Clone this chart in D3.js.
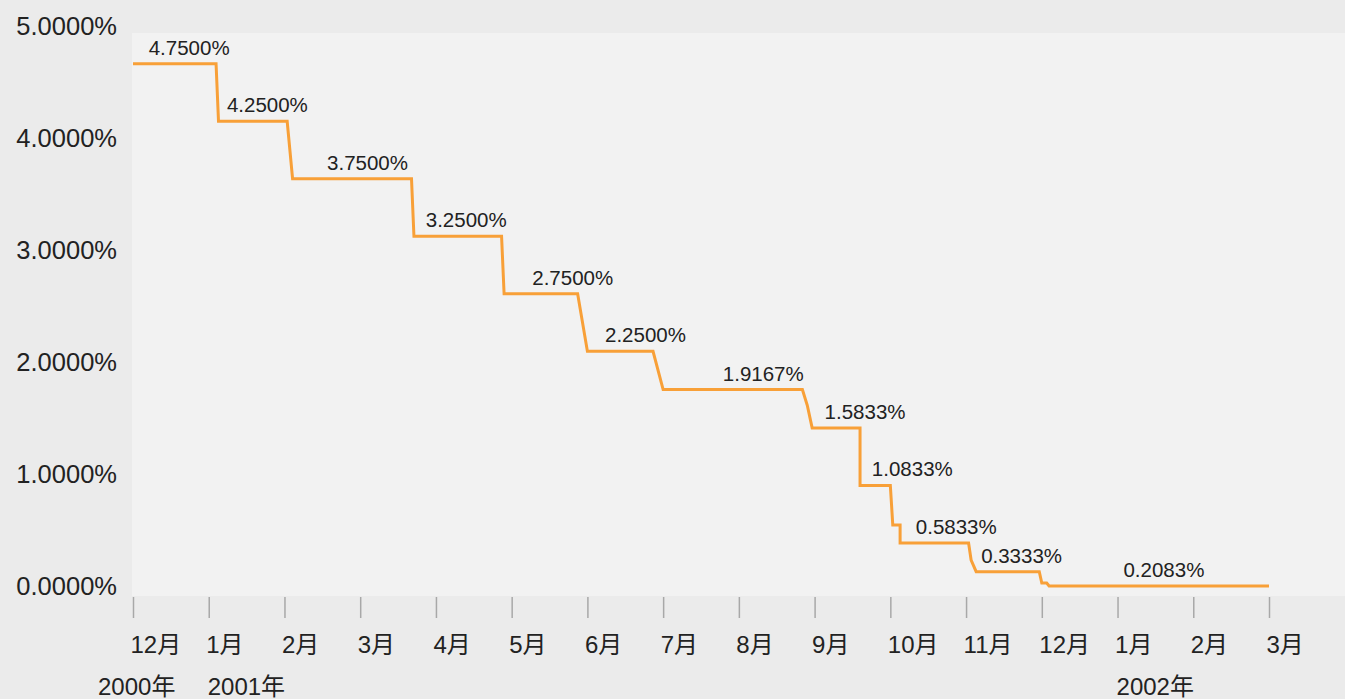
<!DOCTYPE html>
<html>
<head>
<meta charset="utf-8">
<script src="https://cdn.jsdelivr.net/npm/d3@7"></script>
<style>
  html, body { margin: 0; padding: 0; background: #ebebeb; }
  svg { display: block; }
  text { font-family: "Liberation Sans", Arial, "Noto Sans CJK JP", sans-serif; fill: #222; }
</style>
</head>
<body>
<svg id="chart" width="1345" height="699"></svg>
<script>
// ---- data ----
const stepDates = [
  "2000-12-01","2001-01-04","2001-01-05","2001-02-02","2001-02-04","2001-03-22","2001-03-23",
  "2001-04-27","2001-04-28","2001-05-28","2001-06-01","2001-06-27","2001-07-01",
  "2001-08-27","2001-08-29","2001-08-31","2001-09-19","2001-09-19",
  "2001-10-01","2001-10-02","2001-10-05","2001-10-05",
  "2001-11-02","2001-11-03","2001-11-05","2001-11-30","2001-12-01","2001-12-03","2001-12-04",
  "2002-03-01"
];
const stepValues = [
  4.75,4.75,4.25,4.25,3.75,3.75,3.25,
  3.25,2.75,2.75,2.25,2.25,1.9167,
  1.9167,1.78,1.5833,1.5833,1.0833,
  1.0833,0.74,0.74,0.5833,
  0.5833,0.435,0.3333,0.3333,0.235,0.235,0.2083,
  0.2083
];
const labelTexts = ["4.7500%","4.2500%","3.7500%","3.2500%","2.7500%","2.2500%","1.9167%","1.5833%","1.0833%","0.5833%","0.3333%","0.2083%"];
const labelValues = [4.75,4.25,3.75,3.25,2.75,2.25,1.9167,1.5833,1.0833,0.5833,0.3333,0.2083];
const labelDates = ["2000-12-24","2001-01-25","2001-03-04","2001-04-13","2001-05-26","2001-06-24","2001-08-11","2001-09-21","2001-10-10","2001-10-28","2001-11-23","2002-01-20"];
const yTicks = [0,1,2,3,4,5];
const monthLabels = ["12月","1月","2月","3月","4月","5月","6月","7月","8月","9月","10月","11月","12月","1月","2月","3月"];
const yearLabels = ["2000年","2001年","2002年"];
const yearLabelMonths = ["2000-12-01","2001-01-01","2002-01-01"];

// ---- layout ----
const W = 1345, H = 699;
const plot = { left: 132, top: 33, right: 1345, bottom: 596 };
const x0 = 133, x1 = 1269;
const parse = d3.timeParse("%Y-%m-%d");
const months = d3.timeMonth.range(new Date(2000, 11, 1), new Date(2002, 2, 2));
const step = (x1 - x0) / (months.length - 1);
const x = d3.scaleTime().domain(months).range(months.map((d, i) => x0 + i * step));
const yLine = d3.scaleLinear().domain([0, 5]).range([610, 35]);
const yLab = d3.scaleLinear().domain([0, 5]).range([586, 26]);

const svg = d3.select("#chart");
svg.append("rect").attr("width", W).attr("height", H).attr("fill", "#ebebeb");
svg.append("rect")
  .attr("x", plot.left).attr("y", plot.top)
  .attr("width", plot.right - plot.left).attr("height", plot.bottom - plot.top)
  .attr("fill", "#f2f2f2");

// y axis labels
const gy = svg.append("g").attr("transform", "translate(117,0)")
  .call(d3.axisLeft(yLab).tickValues(yTicks).tickSize(0).tickPadding(0)
    .tickFormat(d => d.toFixed(4) + "%"));
gy.select(".domain").remove();
gy.selectAll("text").attr("font-size", 25.5).attr("font-family", null).attr("fill", "#222");

// x axis
const gx = svg.append("g").attr("transform", "translate(0,597)")
  .call(d3.axisBottom(x).tickValues(months).tickSize(21)
    .tickFormat((d, i) => monthLabels[i]));
gx.select(".domain").remove();
gx.selectAll(".tick line").attr("stroke", "#a8a8a8").attr("stroke-width", 1.5);
gx.selectAll(".tick text")
  .attr("font-size", 24).attr("font-family", null).attr("fill", "#222")
  .attr("text-anchor", "start").attr("x", -3).attr("y", 56).attr("dy", null);

// year labels
svg.append("g").selectAll("text").data(yearLabels).join("text")
  .attr("x", (d, i) => x(parse(yearLabelMonths[i])) + (i === 0 ? -35 : -1))
  .attr("y", 695)
  .attr("font-size", 24)
  .text(d => d);

// step line
const pts = stepDates.map((d, i) => [parse(d), stepValues[i]]);
svg.append("path")
  .datum(pts)
  .attr("fill", "none")
  .attr("stroke", "#f8a038")
  .attr("stroke-width", 3)
  .attr("stroke-linejoin", "miter")
  .attr("d", d3.line().x(d => x(d[0])).y(d => yLine(d[1])));

// value labels
svg.append("g").selectAll("text").data(labelTexts).join("text")
  .attr("x", (d, i) => x(parse(labelDates[i])))
  .attr("y", (d, i) => yLine(labelValues[i]) - 9)
  .attr("text-anchor", "middle")
  .attr("font-size", 20.5)
  .text(d => d);
</script>
</body>
</html>
